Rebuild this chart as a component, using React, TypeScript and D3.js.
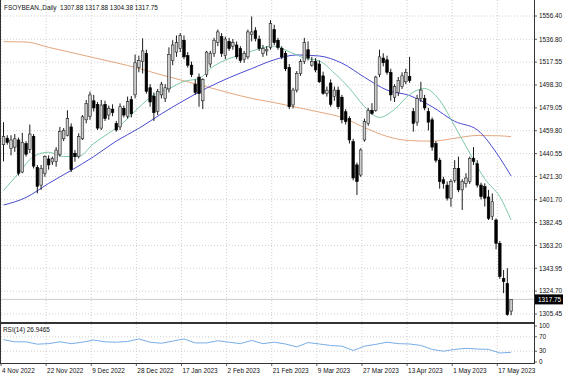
import React from 'react';
import * as d3 from 'd3';

const W = 564;
const H = 376;

const opens = [
  1448, 1453.5, 1445, 1446, 1452, 1425, 1449, 1444, 1455, 1429,
  1414, 1424, 1436, 1433.5, 1434, 1440, 1453, 1456, 1463, 1440.8,
  1438, 1453, 1469, 1472, 1485, 1482, 1462, 1482, 1473, 1478,
  1466, 1463, 1478.6, 1472, 1486, 1490, 1513, 1518, 1525, 1496,
  1489, 1476, 1490, 1487, 1495, 1519, 1526, 1529, 1536, 1523,
  1515, 1499, 1505, 1485, 1507, 1516, 1525, 1534, 1539, 1523,
  1535, 1531, 1532, 1529, 1520, 1522, 1541, 1544, 1537, 1525,
  1527, 1530, 1545, 1536, 1529, 1525, 1513, 1481.5, 1494, 1508,
  1518, 1528, 1515, 1518, 1516, 1506, 1491.3, 1500, 1488.5, 1494,
  1488, 1475.8, 1470, 1450.6, 1431, 1422.5, 1452, 1466, 1477, 1477,
  1507, 1521, 1519.5, 1509, 1488, 1492, 1497, 1501, 1505.5, 1476,
  1467, 1487, 1487, 1476, 1469, 1449, 1435, 1418.5, 1414, 1403,
  1418, 1428, 1410, 1415.5, 1417, 1436.5, 1432, 1414, 1412.7, 1404,
  1387.4, 1384.6, 1365, 1335.5, 1331, 1307.88,
];
const highs = [
  1467, 1456, 1456, 1457, 1454, 1458, 1451, 1465, 1457, 1431,
  1431, 1439, 1439, 1438, 1446, 1463, 1462, 1477, 1466, 1443.5,
  1457.6, 1473, 1485.7, 1492.7, 1490, 1484, 1485.7, 1485, 1481, 1482,
  1468, 1482.8, 1481, 1488.5, 1489, 1524, 1523, 1537.6, 1528, 1499,
  1492, 1495, 1501, 1499, 1530, 1536, 1540, 1542, 1540, 1526,
  1518, 1503, 1508, 1504, 1527, 1527, 1538, 1545, 1542, 1539,
  1538, 1537, 1535, 1531, 1527, 1545, 1556, 1547, 1540, 1532,
  1531, 1553, 1549, 1538, 1531, 1527, 1516, 1496, 1510, 1520,
  1538, 1535, 1522, 1521, 1519, 1509.5, 1497, 1503, 1497, 1497,
  1490, 1478, 1472, 1453, 1433, 1445, 1470, 1479, 1483, 1506,
  1528, 1525, 1523, 1512, 1499, 1505, 1509, 1512, 1522, 1479,
  1490, 1501, 1490, 1479, 1471, 1451, 1437, 1421, 1417, 1419,
  1435, 1438, 1419, 1424, 1438, 1446, 1435, 1416, 1415.5, 1410,
  1407, 1386, 1367, 1342.5, 1344, 1317.88,
];
const lows = [
  1434, 1448, 1439, 1442, 1422, 1424, 1438, 1441, 1428, 1407,
  1410, 1421, 1427, 1431, 1429.5, 1438, 1451, 1455, 1425, 1433.7,
  1436.5, 1452, 1466, 1469, 1476, 1460.4, 1460.4, 1468, 1469, 1472,
  1459, 1460.4, 1471, 1470, 1471, 1487, 1509, 1508, 1491, 1480,
  1468, 1473, 1487, 1484, 1492, 1515, 1522, 1526, 1520, 1513,
  1505, 1490, 1480, 1478, 1505, 1513, 1522, 1531, 1522, 1520,
  1527, 1528, 1520, 1517, 1517, 1520, 1535, 1535, 1527, 1522,
  1523, 1528, 1532, 1528, 1520, 1510, 1478, 1478.6, 1492, 1506,
  1516, 1519, 1513.7, 1509, 1500, 1490, 1488.5, 1480, 1485, 1478,
  1466, 1465, 1449, 1418, 1405.7, 1421, 1450.6, 1464, 1473, 1475.8,
  1505, 1514, 1507, 1485, 1484, 1489, 1495, 1499, 1500, 1459,
  1464, 1484, 1477, 1460, 1443, 1433, 1411, 1411, 1401, 1395.8,
  1416, 1408, 1393, 1412, 1415, 1431, 1412, 1402, 1396, 1384.6,
  1384.6, 1360, 1335, 1323, 1304, 1304.38,
];
const closes = [
  1455, 1450, 1452, 1453, 1424, 1450, 1440, 1457, 1430, 1413,
  1428, 1438, 1431, 1436.5, 1443.5, 1459, 1460, 1470, 1427, 1438,
  1454.8, 1471.5, 1482.8, 1489.9, 1479, 1462, 1481.4, 1470, 1478.6, 1475,
  1460.4, 1480, 1473, 1484.3, 1474, 1517, 1519, 1527, 1493, 1484,
  1475, 1493, 1499, 1496, 1524, 1532, 1534, 1540, 1522, 1515,
  1507, 1492, 1491, 1503, 1526, 1525, 1536, 1543, 1525, 1537,
  1529, 1534, 1522, 1519, 1525, 1543, 1543, 1537.6, 1529, 1529,
  1528, 1550, 1534, 1530, 1522, 1512, 1480, 1494, 1508, 1518,
  1534, 1521, 1518, 1511, 1501, 1491.3, 1494, 1482, 1494, 1480,
  1469, 1467.4, 1452, 1420, 1417, 1443.6, 1467.4, 1477, 1474.5, 1505,
  1522, 1517, 1509, 1490, 1497, 1502, 1506, 1509, 1502, 1466,
  1487, 1494, 1479, 1467, 1446, 1435, 1417, 1415.5, 1403, 1417,
  1428, 1410, 1417, 1420, 1436.5, 1434, 1414, 1404.3, 1403, 1386,
  1400, 1365, 1337, 1332.7, 1305, 1317.75,
];

const slowBars = [0, 6, 12, 18, 24, 30, 36, 42, 48, 54, 60, 66, 72, 78, 84, 90, 96, 102, 108, 114, 120, 126, 132, 135];
const orangeMA = [1534.8, 1534.5, 1530.0, 1525.7, 1521.3, 1517.0, 1512.3, 1506.8, 1501.8, 1496.8, 1491.7, 1487.0, 1483.5, 1479.5, 1475.5, 1471.0, 1462.5, 1455.0, 1451.5, 1451.0, 1453.4, 1455.8, 1455.5, 1454.8];
const blueMA = [1397.2, 1403.6, 1415.4, 1426.4, 1438.0, 1451.1, 1461.8, 1474.0, 1485.3, 1495.6, 1504.4, 1512.1, 1519.5, 1523.6, 1522.7, 1516.7, 1504.8, 1494.0, 1489.4, 1480.0, 1467.7, 1460.5, 1436.9, 1421.7];

const fastBars = [0, 4, 8, 12, 16, 20, 24, 28, 32, 36, 40, 44, 48, 52, 56, 60, 64, 68, 72, 76, 80, 84, 88, 92, 96, 100, 104, 108, 112, 116, 120, 124, 128, 132, 135];
const greenMA = [1409.4, 1423.9, 1438.1, 1441.7, 1438.1, 1438.2, 1449.1, 1457.7, 1467, 1479.4, 1490, 1495.3, 1501.3, 1503.9, 1514.3, 1520.6, 1524.5, 1528.9, 1531.1, 1526.3, 1521, 1518.5, 1508.3, 1495.6, 1480.2, 1471, 1477.8, 1490.3, 1495.3, 1485.4, 1463.6, 1441, 1419.2, 1404.2, 1384.6];

const rsiBars = [0, 3, 6, 9, 12, 15, 18, 21, 24, 27, 30, 33, 36, 39, 42, 45, 48, 51, 54, 57, 60, 63, 66, 69, 72, 75, 78, 81, 84, 87, 90, 93, 96, 99, 102, 105, 108, 111, 114, 117, 120, 123, 126, 129, 132, 135];
const rsiValues = [62, 56, 56, 49.5, 51, 56, 51, 55, 61, 56, 55, 57, 64, 55, 52, 58, 64, 53, 53, 59, 55, 51, 60, 51, 55, 50, 42, 54, 50, 46, 44, 32, 44, 49, 55, 51, 50, 46, 35, 30, 35, 38, 36, 35, 25, 26.9465];

const priceTicks = [1556.40, 1536.80, 1517.55, 1498.30, 1479.05, 1459.80, 1440.55, 1421.30, 1401.70, 1382.45, 1363.20, 1343.95, 1324.70, 1305.45];
const rsiTicks = [100, 70, 30, 0];
const rsiLevels = [70, 30];
const dateBars = [0, 12, 24, 36, 48, 60, 72, 84, 96, 108, 120, 132];
const dateLabels = ['4 Nov 2022', '22 Nov 2022', '9 Dec 2022', '28 Dec 2022', '17 Jan 2023', '2 Feb 2023', '21 Feb 2023', '9 Mar 2023', '27 Mar 2023', '13 Apr 2023', '1 May 2023', '17 May 2023'];

const titleText = 'FSOYBEAN.,Daily  1307.88 1317.88 1304.38 1317.75';
const rsiTitle = 'RSI(14) 26.9465';
const lastPrice = 1317.75;

export default function App() {
  const plotR = 534;
  const mainB = 322;
  const rsiT = 324;
  const rsiB = 363;

  const x = d3.scaleLinear().domain([0, 135]).range([3.5, 511.1]);
  const y = d3.scaleLinear().domain([1305.45, 1556.4]).range([314, 16]);
  const ry = d3.scaleLinear().domain([0, 100]).range([362, 326]);

  const maLine = d3
    .line<[number, number]>()
    .x((d) => x(d[0]))
    .y((d) => y(d[1]))
    .curve(d3.curveMonotoneX);
  const rsiLine = d3
    .line<[number, number]>()
    .x((d) => x(d[0]))
    .y((d) => ry(d[1]));

  const orangePts = slowBars.map((b, k) => [b, orangeMA[k]] as [number, number]);
  const bluePts = slowBars.map((b, k) => [b, blueMA[k]] as [number, number]);
  const greenPts = fastBars.map((b, k) => [b, greenMA[k]] as [number, number]);
  const rsiPts = rsiBars.map((b, k) => [b, rsiValues[k]] as [number, number]);

  const font = "'Liberation Sans', Arial, sans-serif";
  const fs = 6.4;
  const gridColor = '#c4c4c4';
  const bw = 2.6;

  return (
    <svg
      width={W}
      height={H}
      style={{ position: 'absolute', left: 0, top: 0, background: '#fff' }}
      fontFamily={font}
    >
      <defs>
        <clipPath id="mainClip">
          <rect x={0} y={0} width={plotR} height={mainB} />
        </clipPath>
        <clipPath id="rsiClip">
          <rect x={0} y={rsiT} width={plotR} height={rsiB - rsiT} />
        </clipPath>
      </defs>
      <rect x={0} y={0} width={W} height={H} fill="#fff" />

      {/* horizontal grid */}
      {priceTicks.map((p) => (
        <line key={'hg' + p} x1={1} x2={plotR} y1={y(p)} y2={y(p)} stroke={gridColor} strokeWidth={0.8} strokeDasharray="1,2" />
      ))}
      {/* vertical grid */}
      {dateBars.map((b) => (
        <g key={'vg' + b}>
          <line x1={x(b) - 2.5} x2={x(b) - 2.5} y1={0} y2={mainB} stroke={gridColor} strokeWidth={0.8} strokeDasharray="1,2" />
          <line x1={x(b) - 2.5} x2={x(b) - 2.5} y1={rsiT} y2={rsiB} stroke={gridColor} strokeWidth={0.8} strokeDasharray="1,2" />
        </g>
      ))}
      {rsiLevels.map((v) => (
        <line key={'lv' + v} x1={1} x2={plotR} y1={ry(v)} y2={ry(v)} stroke={gridColor} strokeWidth={0.8} strokeDasharray="1,2" />
      ))}

      {/* current price line */}
      <line x1={1} x2={plotR} y1={y(lastPrice)} y2={y(lastPrice)} stroke="#c0c0c0" strokeWidth={0.8} />

      <g clipPath="url(#mainClip)">
        <path d={maLine(orangePts) || ''} fill="none" stroke="#e3a77e" strokeWidth={1} />
        <path d={maLine(bluePts) || ''} fill="none" stroke="#4b4bd2" strokeWidth={1} />
        <path d={maLine(greenPts) || ''} fill="none" stroke="#7ecaa6" strokeWidth={1} />
        {closes.map((c, i) => {
          const o = opens[i];
          const bull = c >= o;
          const top = y(Math.max(o, c));
          const bot = y(Math.min(o, c));
          const cx = x(i);
          return (
            <g key={'c' + i}>
              <line x1={cx} x2={cx} y1={y(highs[i])} y2={y(lows[i])} stroke="#000" strokeWidth={0.9} />
              <rect
                x={cx - bw / 2}
                y={top}
                width={bw}
                height={Math.max(0.8, bot - top)}
                fill={bull ? '#cdcdcd' : '#000'}
                stroke={bull ? '#222' : '#000'}
                strokeWidth={0.6}
              />
            </g>
          );
        })}
      </g>

      <g clipPath="url(#rsiClip)">
        <path d={rsiLine(rsiPts) || ''} fill="none" stroke="#78aee6" strokeWidth={1} />
      </g>

      {/* frames */}
      <line x1={0.5} x2={0.5} y1={0} y2={rsiB} stroke="#333" strokeWidth={1} />
      <line x1={plotR + 0.5} x2={plotR + 0.5} y1={0} y2={rsiB} stroke="#333" strokeWidth={1} />
      <rect x={0} y={mainB} width={plotR + 1} height={2} fill="#333" />
      <line x1={0} x2={plotR + 1} y1={rsiB + 0.5} y2={rsiB + 0.5} stroke="#333" strokeWidth={1} />

      {/* price axis */}
      {priceTicks.map((p) => (
        <g key={'pt' + p}>
          <line x1={plotR} x2={plotR + 3} y1={y(p)} y2={y(p)} stroke="#333" strokeWidth={0.8} />
          <text x={plotR + 5} y={y(p)} dy="0.35em" fontSize={fs} fill="#111">
            {p.toFixed(2)}
          </text>
        </g>
      ))}
      <rect x={plotR + 1} y={y(lastPrice) - 5} width={28} height={10} fill="#000" />
      <text x={plotR + 4} y={y(lastPrice)} dy="0.35em" fontSize={fs} fill="#fff">
        {lastPrice.toFixed(2)}
      </text>

      {/* rsi axis */}
      {rsiTicks.map((v) => (
        <g key={'rt' + v}>
          <line x1={plotR} x2={plotR + 3} y1={ry(v)} y2={ry(v)} stroke="#333" strokeWidth={0.8} />
          <text x={plotR + 5} y={ry(v)} dy="0.35em" fontSize={fs} fill="#111">
            {v}
          </text>
        </g>
      ))}

      {/* dates */}
      {dateBars.map((b, k) => (
        <g key={'dt' + b}>
          <line x1={x(b) - 2.5} x2={x(b) - 2.5} y1={rsiB} y2={rsiB + 3} stroke="#333" strokeWidth={0.8} />
          <text x={x(b) - 1.5} y={373} fontSize={fs} fill="#111">
            {dateLabels[k]}
          </text>
        </g>
      ))}

      <text x={4} y={10} fontSize={fs} fill="#111" style={{ whiteSpace: 'pre' }}>
        {titleText}
      </text>
      <text x={3} y={332} fontSize={fs} fill="#111">
        {rsiTitle}
      </text>
    </svg>
  );
}
